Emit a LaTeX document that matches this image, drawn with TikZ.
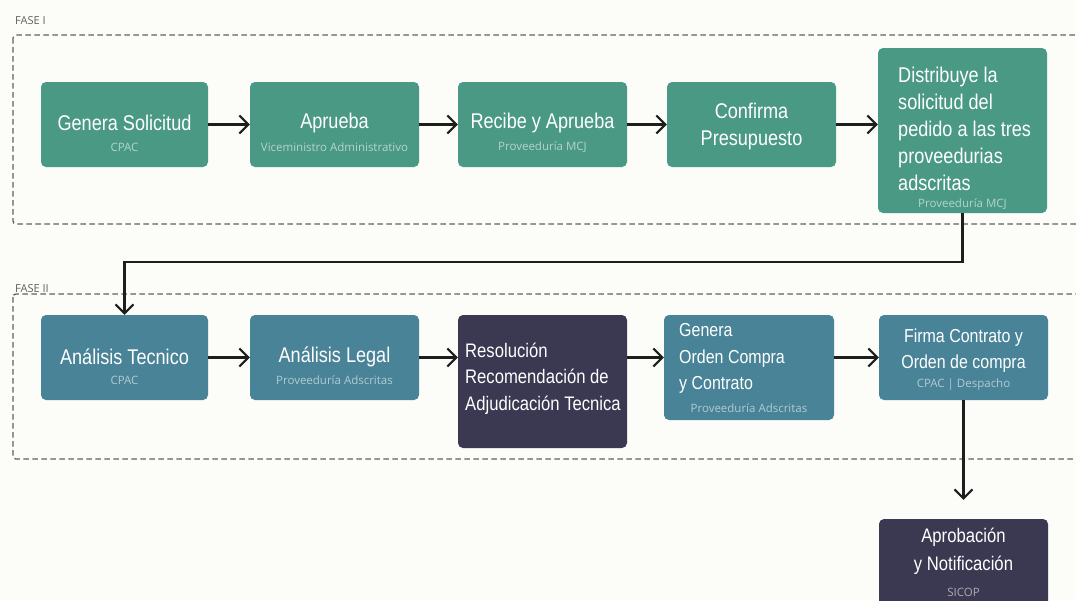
\documentclass[tikz,border=0pt]{standalone}
\usepackage{fontspec}
\setmainfont{Liberation Sans}
\newfontfamily\headfont[FakeStretch=0.85]{Liberation Sans}
\newfontfamily\notefont{Open Sans}
\usetikzlibrary{arrows.meta}

\definecolor{pagebg}{HTML}{FCFCF8}
\definecolor{phaseone}{HTML}{4A9985}
\definecolor{phasetwo}{HTML}{488397}
\definecolor{decision}{HTML}{3B3852}
\definecolor{frame}{HTML}{606060}
\definecolor{link}{HTML}{1E1E1E}

\tikzset{
  card/.style={rounded corners=5pt, inner sep=0pt, draw=none},
  greencard/.style={card, fill=phaseone},
  bluecard/.style={card, fill=phasetwo},
  darkcard/.style={card, fill=decision},
  title/.style={text=white, inner sep=0pt, align=center,
    font=\headfont\fontsize{21.3}{27}\selectfont},
  smalltitle/.style={text=white, inner sep=0pt,
    font=\headfont\fontsize{18.8}{26.5}\selectfont},
  midtitle/.style={text=white, inner sep=0pt,
    font=\headfont\fontsize{19.6}{26.5}\selectfont},
  note/.style={inner sep=0pt, font=\notefont\fontsize{11.5}{13}\selectfont},
  greennote/.style={note, text=white!58!phaseone},
  bluenote/.style={note, text=white!58!phasetwo},
  darknote/.style={note, text=white!58!decision},
  phasebox/.style={draw=frame, dash pattern=on 5.5pt off 3.5pt, line width=1.3pt, rounded corners=3pt},
  phaselabel/.style={font=\notefont\fontsize{11}{13}\selectfont, text=frame, anchor=west, inner sep=0pt},
  flow/.style={draw=link, line width=2.2pt,
    -{Straight Barb[length=9pt,width=18pt,line width=2pt]}},
}

\begin{document}
\begin{tikzpicture}[x=1pt,y=-1pt]
\clip (0,0) rectangle (1076,600);
\fill[pagebg] (0,0) rectangle (1076,600);

% phase frames (open to the right)
\draw[phasebox] (13,35) rectangle (1110,224);
\node[phaselabel] (fase1) at (15,21) {FASE I};
\draw[phasebox] (13,294) rectangle (1110,459);
\node[phaselabel] (fase2) at (15,289) {FASE II};

% ---- phase I ----
\node[greencard, minimum width=167pt, minimum height=85pt] (gs) at (124.5,124.5) {};
\node[title] (gs-t) at (124.5,123) {Genera Solicitud};
\node[greennote] (gs-s) at (124.5,147) {CPAC};

\node[greencard, minimum width=169pt, minimum height=85pt] (ap) at (334.5,124.5) {};
\node[title] (ap-t) at (334.5,123) {Aprueba};
\node[greennote] (ap-s) at (334.5,147) {Viceministro Administrativo};

\node[greencard, minimum width=169pt, minimum height=85pt] (rc) at (542.5,124.5) {};
\node[title] (rc-t) at (542.5,123) {Recibe y Aprueba};
\node[greennote] (rc-s) at (542.5,147) {Proveeduría MCJ};

\node[greencard, minimum width=169pt, minimum height=85pt] (cp) at (751.5,124.5) {};
\node[title] (cp-t) at (751.5,126.5) {Confirma\\Presupuesto};

\node[greencard, minimum width=169pt, minimum height=165pt] (ds) at (962.5,130.5) {};
\node[title, align=left, anchor=west] (ds-t) at (898,128.5)
  {Distribuye la\\solicitud del\\pedido a las tres\\proveedurias\\adscritas};
\node[greennote] (ds-s) at (962.5,204) {Proveeduría MCJ};

% ---- phase II ----
\node[bluecard, minimum width=167pt, minimum height=85pt] (at) at (124.5,357.5) {};
\node[title] (at-t) at (124.5,357) {Análisis Tecnico};
\node[bluenote] (at-s) at (124.5,380) {CPAC};

\node[bluecard, minimum width=169pt, minimum height=85pt] (al) at (334.5,357.5) {};
\node[title] (al-t) at (334.5,357) {Análisis Legal};
\node[bluenote] (al-s) at (334.5,380) {Proveeduría Adscritas};

\node[darkcard, minimum width=169pt, minimum height=133pt] (rs) at (542.5,381.5) {};
\node[midtitle, align=left, anchor=west] (rs-t) at (465,378.5)
  {Resolución\\Recomendación de\\Adjudicación Tecnica};

\node[bluecard, minimum width=170pt, minimum height=105pt] (go) at (749,367.5) {};
\node[smalltitle, align=left, anchor=west] (go-t) at (679,358.5)
  {Genera\\Orden Compra\\y Contrato};
\node[bluenote] (go-s) at (749,408) {Proveeduría Adscritas};

\node[bluecard, minimum width=169pt, minimum height=85pt] (fc) at (963.5,357.5) {};
\node[smalltitle, align=center] (fc-t) at (963.5,350.5) {Firma Contrato y\\Orden de compra};
\node[bluenote] (fc-s) at (963.5,385) {CPAC | Despacho};

% ---- final step ----
\node[darkcard, minimum width=169pt, minimum height=106pt] (apr) at (963.5,572) {};
\node[midtitle, align=center, font=\headfont\fontsize{19.6}{28}\selectfont] (apr-t) at (963.5,551)
  {Aprobación\\y Notificación};
\node[darknote] (apr-s) at (963.5,592) {SICOP};

% ---- connectors ----
\draw[flow] (gs) -- (ap);
\draw[flow] (ap) -- (rc);
\draw[flow] (rc) -- (cp);
\draw[flow] (cp.east) -- (cp.east -| ds.west);
\draw[flow] (ds.south) -- ++(0,49) -| (at.north);

\draw[flow] (at) -- (al);
\draw[flow] (al.east) -- (al.east -| rs.west);
\draw[flow] (rs.east |- al.east) -- (go.west |- al.east);
\draw[flow] (go.east |- fc.west) -- (fc.west);
\draw[flow, shorten >=19pt] (fc.south) -- (fc.south |- apr.north);
\end{tikzpicture}
\end{document}
